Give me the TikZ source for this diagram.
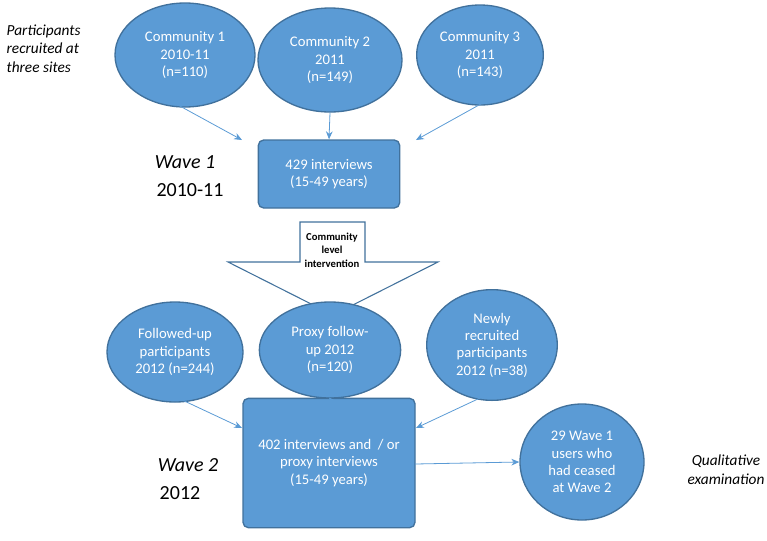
\documentclass[tikz,border=0pt]{standalone}
\usepackage{fontspec}
\setmainfont{Carlito}
\usetikzlibrary{shapes.geometric,arrows.meta}
\definecolor{fillb}{HTML}{5B9BD5}
\definecolor{edgeb}{HTML}{41719C}
\begin{document}
\begin{tikzpicture}[x=0.75pt,y=-0.75pt,
 ell/.style={ellipse,draw=edgeb,line width=1pt,fill=fillb,text=white,align=center,font=\fontsize{11}{13}\selectfont,inner sep=0pt},
 box/.style={rectangle,rounded corners=4pt,draw=edgeb,line width=1pt,fill=fillb,text=white,align=center,font=\fontsize{11}{13}\selectfont},
 conn/.style={draw=fillb,line width=0.6pt,-{Stealth[length=6pt,width=5pt]}},
 lab/.style={font=\fontsize{11.5}{14}\selectfont\itshape,align=left}]
\useasboundingbox (0,0) rectangle (767,540);
\node[lab,anchor=north west] (pr) at (2,20) {Participants\\recruited at\\three sites};
\node[ell,minimum width=105pt,minimum height=78pt] (c1) at (185,55) {Community 1\\2010-11\\(n=110)};
\node[ell,minimum width=108pt,minimum height=78pt] (c2) at (330,60) {Community 2\\2011\\(n=149)};
\node[ell,minimum width=95pt,minimum height=75pt] (c3) at (480,55) {Community 3\\2011\\(n=143)};
\node[box,minimum width=106pt,minimum height=51pt] (b1) at (329,174) {429 interviews\\(15-49 years)};
\node[font=\fontsize{15}{17}\selectfont\itshape] (w1) at (185,162) {Wave 1};
\node[font=\fontsize{15}{17}\selectfont] (y1) at (190,190) {2010-11};
\coordinate (a1) at (178,105); \coordinate (a3) at (488,100);
\draw[conn] (a1) -- (242,140);
\draw[conn] (c2.south) -- (b1.north);
\draw[conn] (a3) -- (416,140);
\draw[edgeb,line width=0.8pt,fill=white] (300,222) -- (365,222) -- (365,262) -- (438,262) -- (333,315) -- (228,262) -- (300,262) -- cycle;
\node[font=\fontsize{8}{10}\selectfont\bfseries,align=center] (iv) at (332,250) {Community\\level\\intervention};
\node[ell,minimum width=102pt,minimum height=75pt] (f1) at (175,352) {Followed-up\\participants\\2012 (n=244)};
\node[ell,minimum width=106pt,minimum height=72pt] (f2) at (330,350) {Proxy follow-\\up 2012\\(n=120)};
\node[ell,minimum width=98pt,minimum height=83pt] (f3) at (492,345) {Newly\\recruited\\participants\\2012 (n=38)};
\node[box,minimum width=129pt,minimum height=97pt] (b2) at (329,463) {402 interviews and \ / or\\proxy interviews\\(15-49 years)};
\node[font=\fontsize{15}{17}\selectfont\itshape] (w2) at (188,465) {Wave 2};
\node[font=\fontsize{15}{17}\selectfont] (y2) at (180,493) {2012};
\coordinate (d1) at (178,398); \coordinate (d3) at (480,398);
\draw[conn] (d1) -- (242,428);
\draw[conn] (f2.south) -- (b2.north);
\draw[conn] (d3) -- (416,428);
\node[ell,minimum width=93pt,minimum height=87pt] (q) at (582,462) {29 Wave 1\\users who\\had ceased\\at Wave 2};
\coordinate (bq) at (415,464);
\draw[conn] (bq) -- (q.west);
\node[lab,align=center] (ql) at (726,470) {Qualitative\\examination};
\end{tikzpicture}
\end{document}
